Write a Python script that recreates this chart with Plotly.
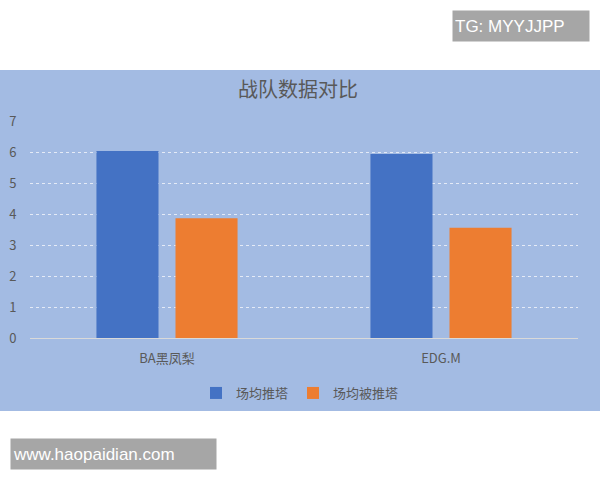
import plotly.graph_objects as go

categories = ["BA黑凤梨", "EDG.M"]
series_names = ["场均推塔", "场均被推塔"]
push_towers = [6.05, 5.95]
pushed_towers = [3.87, 3.57]
colors = ["#4472C4", "#ED7D31"]
title_text = "战队数据对比"

W, H = 600, 480
ML, MR, MT, MB = 30, 22, 121, 142
pw, ph = W - ML - MR, H - MT - MB

def px_x(x):
    return (x - ML) / pw

def px_y(y):
    return (H - MB - y) / ph

fig = go.Figure()
for name, vals, col in zip(series_names, [push_towers, pushed_towers], colors):
    fig.add_trace(go.Bar(x=categories, y=vals, name=name, marker=dict(color=col, line=dict(width=0))))

font_cjk = "Noto Sans CJK SC, Noto Sans, sans-serif"

fig.update_layout(
    width=W, height=H,
    margin=dict(l=ML, r=MR, t=MT, b=MB, autoexpand=False),
    paper_bgcolor="white",
    plot_bgcolor="rgba(0,0,0,0)",
    barmode="group", bargap=0.423, bargroupgap=0.215,
    font=dict(family=font_cjk, color="#595959", size=12),
    showlegend=True,
    legend=dict(orientation="h", x=0.5, xanchor="center", xref="container",
                y=1 - 393 / H, yanchor="middle", yref="container",
                font=dict(size=13, color="#595959"), bgcolor="rgba(0,0,0,0)",
                itemwidth=30, traceorder="normal"),
    xaxis=dict(showgrid=False, showline=True, linecolor="#D9D9D9", linewidth=1,
               ticks="outside", ticklen=8, tickcolor="rgba(0,0,0,0)", automargin=False,
               tickfont=dict(size=13, color="#595959")),
    yaxis=dict(range=[0, 7.02], tickvals=[0, 1, 2, 3, 4, 5, 6, 7], showgrid=True,
               gridcolor="#E4EAF6", griddash="dot",
               gridwidth=1.3, zeroline=False, showline=False, automargin=False,
               ticks="outside", ticklen=10, tickcolor="rgba(0,0,0,0)",
               tickfont=dict(size=13, color="#595959")),
    shapes=[dict(type="rect", xref="paper", yref="paper",
                 x0=px_x(0), x1=px_x(600), y0=px_y(411), y1=px_y(70),
                 fillcolor="#A3BBE3", line=dict(width=0), layer="below")],
    annotations=[
        dict(text=title_text, xref="paper", yref="paper", x=px_x(298), y=px_y(88),
             showarrow=False, font=dict(size=20, color="#595959", family=font_cjk),
             xanchor="center", yanchor="middle"),
        dict(text="TG: MYYJJPP", xref="paper", yref="paper", x=px_x(452), y=px_y(26),
             xanchor="left", yanchor="middle", showarrow=False, bgcolor="#A6A6A6",
             width=132, height=26, align="left", borderpad=2,
             font=dict(size=17, color="white", family="Liberation Sans, Arial, sans-serif")),
        dict(text="www.haopaidian.com", xref="paper", yref="paper", x=px_x(10), y=px_y(454),
             xanchor="left", yanchor="middle", showarrow=False, bgcolor="#A6A6A6",
             width=201, height=26, align="left", borderpad=2,
             font=dict(size=17, color="white", family="Liberation Sans, Arial, sans-serif")),
    ],
)

fig.write_html("out.html", config={"displayModeBar": False},
               post_script="document.body.style.margin='0';document.body.style.overflow='hidden';")
